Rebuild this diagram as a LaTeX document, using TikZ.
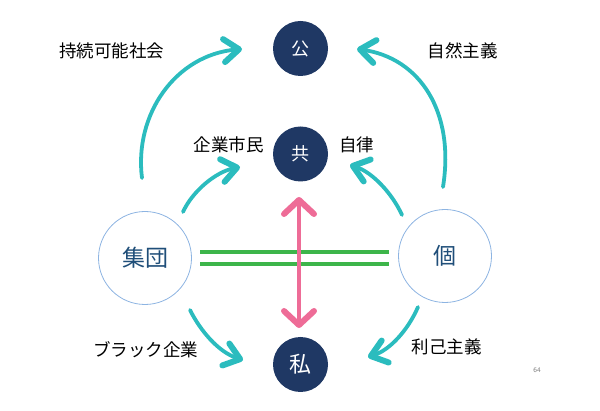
\documentclass[tikz,border=0pt]{standalone}
\usepackage{fontspec}
\newfontfamily\jpfont{Noto Sans CJK JP}
\usetikzlibrary{arrows.meta}
\definecolor{navy}{HTML}{1F3864}
\definecolor{chalkteal}{HTML}{2BBCBE}
\definecolor{chalkpink}{HTML}{EE6C97}
\definecolor{chalkgreen}{HTML}{3DB54A}
\definecolor{ringblue}{HTML}{8DB4E2}
\definecolor{inkblue}{HTML}{1F4E79}
\tikzset{dark/.style = {circle, fill=navy, text=white, minimum size=55pt, inner sep=0pt, font=\jpfont\fontsize{18}{20}\selectfont},
         ring/.style = {circle, draw=ringblue, line width=0.8pt, fill=white, text=inkblue, minimum size=93pt, inner sep=0pt, font=\jpfont\fontsize{23}{25}\selectfont},
         lbl/.style = {inner sep=0pt, font=\jpfont\fontsize{17.5}{20}\selectfont},
         flow/.style = {draw=chalkteal, line width=3.8pt, line cap=round, -{Straight Barb[length=15pt, width=23pt, line width=6pt, round]}},
         bar/.style = {draw=chalkgreen, line width=3.5pt}}

\begin{document}
\begin{tikzpicture}[x=1pt, y=-1pt]
    \useasboundingbox (0,0) rectangle (600,411);
    \node[dark](pub)at(300.5,48.5){公};
    \node[dark](com)at(300.5,154){共};
    \node[dark, font=\jpfont\fontsize{22}{24}\selectfont](priv)at(300.5,364.5){私};
    \node[ring](grp)at(145,258){集団};
    \node[ring](ind)at(445,256){個};

    \node[lbl](sus)at(111.5,51){持続可能社会};
    \node[lbl](nat)at(462.5,51){自然主義};
    \node[lbl](cit)at(228.5,145){企業市民};
    \node[lbl](aut)at(356.5,145){自律};
    \node[lbl](blk)at(145.5,350){ブラック企業};
    \node[lbl](ego)at(446.5,347){利己主義};
    \node[inner sep=0pt, text=gray, font=\sffamily\fontsize{7}{8}\selectfont](pg)at(537,370){64};

    % free ends of the crayon arrows
    \coordinate(a1)at(142,178); \coordinate(b1)at(242,49);
    \coordinate(a2)at(443,187); \coordinate(b2)at(357,49);
    \coordinate(a3)at(183,212); \coordinate(b3)at(240,167);
    \coordinate(a4)at(402,215); \coordinate(b4)at(350,165);
    \coordinate(a5)at(190,310); \coordinate(b5)at(243,360);
    \coordinate(a6)at(418,307); \coordinate(b6)at(368,357);
    \coordinate(p1)at(299,197); \coordinate(p2)at(299,328);
    \coordinate(g1)at(200,252); \coordinate(h1)at(389,252);
    \coordinate(g2)at(200,264); \coordinate(h2)at(389,264);

    \draw[flow](a1)..controls(134,115)and(175,55)..(b1);
    \draw[flow](a2)..controls(455,112)and(420,58)..(b2);
    \draw[flow](a3)..controls(192,192)and(215,172)..(b3);
    \draw[flow](a4)..controls(392,193)and(372,172)..(b4);
    \draw[flow](a5)..controls(200,330)and(218,352)..(b5);
    \draw[flow](a6)..controls(408,330)and(390,350)..(b6);

    \draw[bar](g1)--(h1);
    \draw[bar](g2)--(h2);
    \draw[draw=chalkpink, line width=3.6pt, line cap=round, {Straight Barb[length=14pt, width=30pt, line width=6pt, round]}-{Straight Barb[length=14pt, width=30pt, line width=6pt, round]}](p1)--(p2);
\end{tikzpicture}
\end{document}
